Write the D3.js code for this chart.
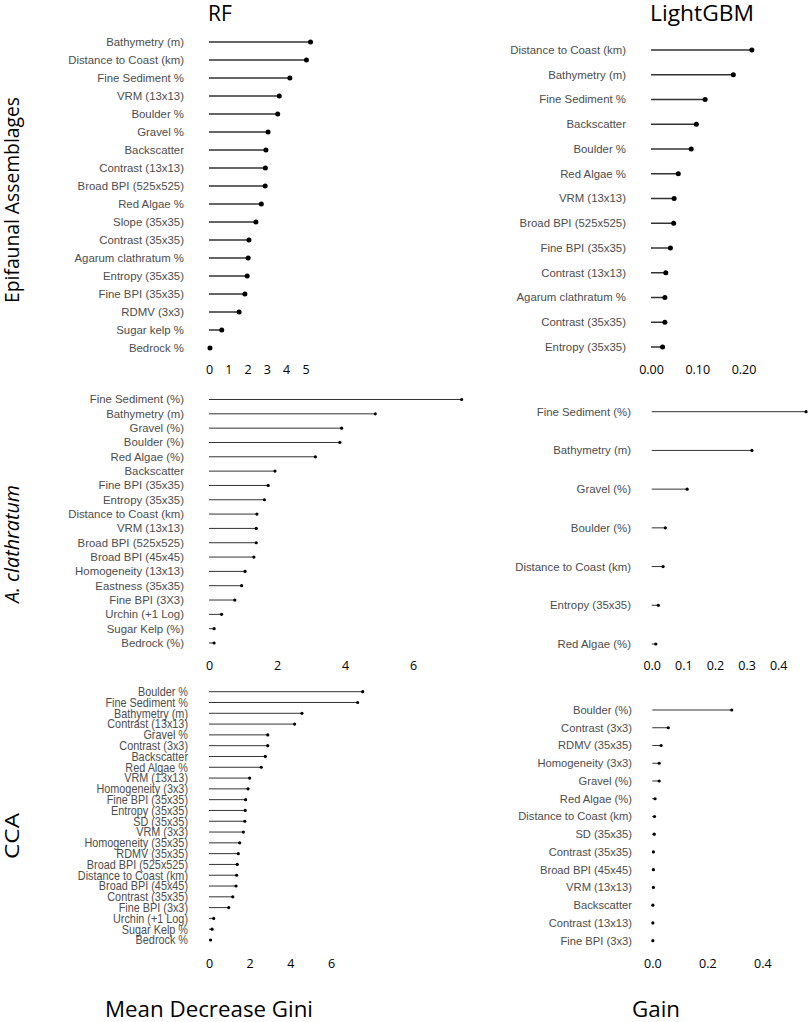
<!DOCTYPE html>
<html>
<head>
<meta charset="utf-8">
<script src="https://cdn.jsdelivr.net/npm/d3@7"></script>
<style>
  body { margin: 0; background: #fff; }
  svg { display: block; }
</style>
</head>
<body>
<div id="chart"></div>
<script>
// Epifaunal assemblages
var epiRfLabels = ["Bathymetry (m)", "Distance to Coast (km)", "Fine Sediment %", "VRM (13x13)", "Boulder %",
  "Gravel %", "Backscatter", "Contrast (13x13)", "Broad BPI (525x525)", "Red Algae %", "Slope (35x35)",
  "Contrast (35x35)", "Agarum clathratum %", "Entropy (35x35)", "Fine BPI (35x35)", "RDMV (3x3)",
  "Sugar kelp %", "Bedrock %"];
var epiRfValues = [5.26, 5.05, 4.19, 3.64, 3.56, 3.06, 2.95, 2.92, 2.91, 2.71, 2.43, 2.07, 2.03, 1.98, 1.86, 1.56, 0.66, 0.05];

var epiGbmLabels = ["Distance to Coast (km)", "Bathymetry (m)", "Fine Sediment %", "Backscatter", "Boulder %",
  "Red Algae %", "VRM (13x13)", "Broad BPI (525x525)", "Fine BPI (35x35)", "Contrast (13x13)",
  "Agarum clathratum %", "Contrast (35x35)", "Entropy (35x35)"];
var epiGbmValues = [0.218, 0.178, 0.117, 0.098, 0.087, 0.059, 0.050, 0.049, 0.042, 0.032, 0.030, 0.030, 0.025];

// A. clathratum
var acRfLabels = ["Fine Sediment (%)", "Bathymetry (m)", "Gravel (%)", "Boulder (%)", "Red Algae (%)", "Backscatter",
  "Fine BPI (35x35)", "Entropy (35x35)", "Distance to Coast (km)", "VRM (13x13)", "Broad BPI (525x525)",
  "Broad BPI (45x45)", "Homogeneity (13x13)", "Eastness (35x35)", "Fine BPI (3X3)", "Urchin (+1 Log)",
  "Sugar Kelp (%)", "Bedrock (%)"];
var acRfValues = [7.43, 4.89, 3.90, 3.85, 3.13, 1.94, 1.74, 1.63, 1.41, 1.39, 1.39, 1.32, 1.06, 0.96, 0.76, 0.37, 0.15, 0.15];

var acGbmLabels = ["Fine Sediment (%)", "Bathymetry (m)", "Gravel (%)", "Boulder (%)", "Distance to Coast (km)",
  "Entropy (35x35)", "Red Algae (%)"];
var acGbmValues = [0.488, 0.317, 0.112, 0.043, 0.036, 0.021, 0.013];

// CCA
var ccaRfLabels = ["Boulder %", "Fine Sediment %", "Bathymetry (m)", "Contrast (13x13)", "Gravel %", "Contrast (3x3)",
  "Backscatter", "Red Algae %", "VRM (13x13)", "Homogeneity (3x3)", "Fine BPI (35x35)", "Entropy (35x35)",
  "SD (35x35)", "VRM (3x3)", "Homogeneity (35x35)", "RDMV (35x35)", "Broad BPI (525x525)",
  "Distance to Coast (km)", "Broad BPI (45x45)", "Contrast (35x35)", "Fine BPI (3x3)", "Urchin (+1 Log)",
  "Sugar Kelp %", "Bedrock %"];
var ccaRfValues = [7.56, 7.31, 4.57, 4.21, 2.89, 2.89, 2.77, 2.57, 2.00, 1.92, 1.80, 1.78, 1.76, 1.69, 1.51, 1.44,
  1.39, 1.36, 1.33, 1.17, 0.97, 0.23, 0.15, 0.08];

var ccaGbmLabels = ["Boulder (%)", "Contrast (3x3)", "RDMV (35x35)", "Homogeneity (3x3)", "Gravel (%)", "Red Algae (%)",
  "Distance to Coast (km)", "SD (35x35)", "Contrast (35x35)", "Broad BPI (45x45)", "VRM (13x13)", "Backscatter",
  "Contrast (13x13)", "Fine BPI (3x3)"];
var ccaGbmValues = [0.289, 0.058, 0.032, 0.025, 0.025, 0.010, 0.008, 0.007, 0.004, 0.004, 0.004, 0.002, 0.002, 0.002];

var rfTicks5 = [0, 1, 2, 3, 4, 5];
var rfTicks6 = [0, 2, 4, 6];
var gbmTicks1 = [0, 0.1, 0.2];
var gbmTicks2 = [0, 0.1, 0.2, 0.3, 0.4];
var gbmTicks3 = [0, 0.2, 0.4];

var w = 809, h = 1022;
var svg = d3.select("#chart").append("svg").attr("width", w).attr("height", h);

var panels = [
  { labels: epiRfLabels, values: epiRfValues, dom: [0, 5], rng: [209, 305.5], y0: 42, y1: 348, ticks: rfTicks5, fmt: "d",
    tickY: 374, labelX: 184, fs: 11.4, sx: 1, lw: 1.5, r: 2.5 },
  { labels: epiGbmLabels, values: epiGbmValues, dom: [0, 0.2], rng: [651, 743.5], y0: 50, y1: 347, ticks: gbmTicks1, fmt: ".2f",
    tickY: 374, labelX: 626, fs: 11.4, sx: 1, lw: 1.5, r: 2.5 },
  { labels: acRfLabels, values: acRfValues, dom: [0, 6], rng: [209, 413], y0: 399.5, y1: 643, ticks: rfTicks6, fmt: "d",
    tickY: 670, labelX: 184, fs: 11.4, sx: 1, lw: 1, r: 1.6 },
  { labels: acGbmLabels, values: acGbmValues, dom: [0, 0.4], rng: [651.7, 778.2], y0: 411.7, y1: 644, ticks: gbmTicks2, fmt: ".1f",
    tickY: 670, labelX: 631, fs: 11.4, sx: 1, lw: 1, r: 1.6 },
  { labels: ccaRfLabels, values: ccaRfValues, dom: [0, 6], rng: [209, 331], y0: 691.7, y1: 940, ticks: rfTicks6, fmt: "d",
    tickY: 968, labelX: 188, fs: 12.6, sx: 0.86, lw: 1, r: 1.6 },
  { labels: ccaGbmLabels, values: ccaGbmValues, dom: [0, 0.4], rng: [652.3, 762.3], y0: 710, y1: 940.7, ticks: gbmTicks3, fmt: ".1f",
    tickY: 968, labelX: 632, fs: 11.2, sx: 1, lw: 1, r: 1.6 }
];

panels.forEach(function(p) {
  var x = d3.scaleLinear().domain(p.dom).range(p.rng);
  var y = d3.scalePoint().domain(p.labels).range([p.y0, p.y1]);
  var data = p.labels.map(function(l, i) { return { label: l, value: p.values[i] }; });
  var g = svg.append("g");

  g.selectAll("line.stem")
    .data(data)
    .enter()
    .append("line")
    .attr("class", "stem")
    .attr("x1", x(0))
    .attr("x2", function(d) { return x(d.value); })
    .attr("y1", function(d) { return y(d.label); })
    .attr("y2", function(d) { return y(d.label); })
    .attr("stroke", "#333")
    .attr("stroke-width", p.lw);

  g.selectAll("circle")
    .data(data)
    .enter()
    .append("circle")
    .attr("cx", function(d) { return x(d.value); })
    .attr("cy", function(d) { return y(d.label); })
    .attr("r", p.r)
    .attr("fill", "#000");

  var lg = g.append("g").attr("transform", "translate(" + p.labelX + ",0) scale(" + p.sx + ",1)");
  lg.selectAll("text")
    .data(data)
    .enter()
    .append("text")
    .attr("x", 0)
    .attr("y", function(d) { return y(d.label); })
    .attr("dy", "0.35em")
    .attr("text-anchor", "end")
    .attr("font-family", "'Liberation Sans', Arial, sans-serif")
    .attr("font-size", p.fs)
    .attr("fill", "#4d4d4d")
    .text(function(d) { return d.label; });

  var axis = d3.axisBottom(x).tickValues(p.ticks).tickFormat(d3.format(p.fmt)).tickSize(0);
  var ag = g.append("g").attr("transform", "translate(0," + (p.tickY - 12) + ")").call(axis);
  ag.select(".domain").remove();
  ag.selectAll("text")
    .attr("font-family", "'Open Sans', sans-serif")
    .attr("font-size", 12.5)
    .attr("fill", "#000");
});

// column titles
svg.append("text").attr("x", 208).attr("y", 21).text("RF")
  .attr("font-family", "'Open Sans', sans-serif").attr("font-size", 21);
svg.append("text").attr("x", 650).attr("y", 21).text("LightGBM")
  .attr("font-family", "'Open Sans', sans-serif").attr("font-size", 21)
  .attr("textLength", 104).attr("lengthAdjust", "spacingAndGlyphs");

// row titles
var rowTitles = [
  { t: "Epifaunal Assemblages", cy: 200, len: 206, italic: false },
  { t: "A. clathratum", cy: 544, len: 118, italic: true },
  { t: "CCA", cy: 836, len: 46, italic: false }
];
rowTitles.forEach(function(r) {
  svg.append("text")
    .attr("transform", "translate(19," + r.cy + ") rotate(-90)")
    .attr("text-anchor", "middle")
    .attr("font-family", "'Open Sans', sans-serif")
    .attr("font-size", 20)
    .attr("font-style", r.italic ? "italic" : "normal")
    .attr("textLength", r.len)
    .attr("lengthAdjust", "spacingAndGlyphs")
    .text(r.t);
});

// axis titles
svg.append("text").attr("x", 105).attr("y", 1017).text("Mean Decrease Gini")
  .attr("font-family", "'Open Sans', sans-serif").attr("font-size", 21)
  .attr("textLength", 208).attr("lengthAdjust", "spacingAndGlyphs");
svg.append("text").attr("x", 632).attr("y", 1017).text("Gain")
  .attr("font-family", "'Open Sans', sans-serif").attr("font-size", 21)
  .attr("textLength", 48).attr("lengthAdjust", "spacingAndGlyphs");
</script>
</body>
</html>
